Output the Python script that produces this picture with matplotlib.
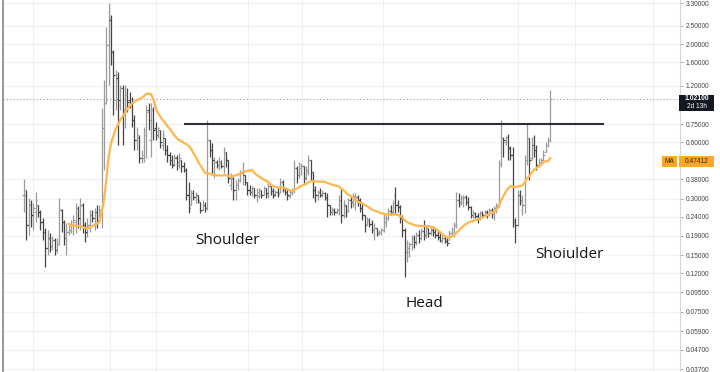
import numpy as np
import matplotlib
matplotlib.use("Agg")
import matplotlib.pyplot as plt
from matplotlib.patches import Rectangle
from matplotlib.ticker import FixedLocator, NullLocator, FuncFormatter

# ---------------- data ----------------
opens = [
    0.314, 0.314, 0.217, 0.278, 0.246, 0.255, 0.278, 0.255, 0.225, 0.199,
    0.164, 0.185, 0.168, 0.181, 0.160, 0.172, 0.261, 0.225, 0.185, 0.199,
    0.204, 0.217, 0.225, 0.268, 0.237, 0.278, 0.217, 0.199, 0.217, 0.246,
    0.237, 0.255, 0.231, 0.261, 0.714, 0.971, 1.977, 2.687, 1.815, 1.007,
    1.319, 0.947, 1.166, 0.838, 1.071, 1.007, 0.959, 0.788, 0.616, 0.631,
    0.495, 0.495, 0.655, 0.891, 0.616, 0.891, 0.714, 0.655, 0.697, 0.580,
    0.631, 0.545, 0.513, 0.482, 0.459, 0.495, 0.454, 0.482, 0.449, 0.427,
    0.314, 0.278, 0.322, 0.306, 0.314, 0.288, 0.261, 0.278, 0.268, 0.616,
    0.545, 0.417, 0.470, 0.454, 0.470, 0.449, 0.532, 0.482, 0.355, 0.387,
    0.334, 0.355, 0.377, 0.412, 0.401, 0.368, 0.334, 0.326, 0.342, 0.314,
    0.310, 0.334, 0.314, 0.342, 0.314, 0.351, 0.330, 0.314, 0.326, 0.326,
    0.368, 0.342, 0.326, 0.310, 0.326, 0.334, 0.438, 0.401, 0.438, 0.449,
    0.387, 0.417, 0.482, 0.417, 0.334, 0.314, 0.326, 0.314, 0.322, 0.302,
    0.278, 0.255, 0.261, 0.255, 0.261, 0.295, 0.246, 0.278, 0.261, 0.295,
    0.288, 0.281, 0.306, 0.295, 0.268, 0.246, 0.217, 0.231, 0.220, 0.192,
    0.209, 0.197, 0.199, 0.204, 0.225, 0.237, 0.258, 0.255, 0.314, 0.278,
    0.271, 0.237, 0.204, 0.156, 0.156, 0.172, 0.185, 0.177, 0.192, 0.185,
    0.202, 0.192, 0.209, 0.197, 0.204, 0.199, 0.192, 0.187, 0.181, 0.185,
    0.179, 0.181, 0.197, 0.199, 0.217, 0.295, 0.281, 0.288, 0.306, 0.288,
    0.271, 0.246, 0.252, 0.243, 0.237, 0.252, 0.246, 0.255, 0.249, 0.261,
    0.249, 0.268, 0.278, 0.465, 0.631, 0.601, 0.639, 0.559, 0.513, 0.225,
    0.217, 0.314, 0.261, 0.278, 0.482, 0.631, 0.495, 0.580, 0.545, 0.454,
    0.459, 0.482, 0.532, 0.580, 0.616,
]
highs = [
    0.382, 0.334, 0.302, 0.295, 0.284, 0.326, 0.278, 0.261, 0.237, 0.209,
    0.204, 0.197, 0.190, 0.185, 0.185, 0.302, 0.265, 0.230, 0.223, 0.220,
    0.231, 0.246, 0.284, 0.275, 0.302, 0.285, 0.225, 0.237, 0.261, 0.261,
    0.268, 0.278, 0.278, 0.913, 1.287, 2.466, 3.310, 2.857, 1.860, 1.455,
    1.420, 1.210, 1.210, 1.210, 1.166, 1.111, 1.045, 0.838, 0.723, 0.655,
    0.545, 0.723, 0.947, 0.971, 0.971, 0.924, 0.769, 0.723, 0.697, 0.697,
    0.631, 0.580, 0.532, 0.513, 0.519, 0.513, 0.526, 0.482, 0.470, 0.438,
    0.368, 0.334, 0.334, 0.326, 0.314, 0.288, 0.295, 0.288, 0.788, 0.616,
    0.594, 0.501, 0.482, 0.501, 0.482, 0.566, 0.535, 0.482, 0.412, 0.391,
    0.377, 0.387, 0.427, 0.470, 0.401, 0.368, 0.355, 0.351, 0.342, 0.342,
    0.342, 0.334, 0.351, 0.342, 0.364, 0.351, 0.342, 0.334, 0.342, 0.387,
    0.377, 0.342, 0.342, 0.334, 0.342, 0.482, 0.449, 0.470, 0.465, 0.449,
    0.449, 0.513, 0.482, 0.417, 0.351, 0.334, 0.342, 0.334, 0.326, 0.322,
    0.278, 0.271, 0.268, 0.268, 0.314, 0.342, 0.295, 0.278, 0.302, 0.310,
    0.322, 0.322, 0.314, 0.302, 0.284, 0.246, 0.240, 0.237, 0.231, 0.223,
    0.209, 0.204, 0.209, 0.252, 0.246, 0.268, 0.278, 0.295, 0.346, 0.295,
    0.278, 0.246, 0.209, 0.181, 0.177, 0.192, 0.192, 0.199, 0.204, 0.209,
    0.231, 0.217, 0.209, 0.212, 0.214, 0.209, 0.204, 0.199, 0.197, 0.190,
    0.185, 0.204, 0.212, 0.225, 0.326, 0.322, 0.314, 0.314, 0.314, 0.306,
    0.275, 0.261, 0.255, 0.252, 0.258, 0.258, 0.261, 0.261, 0.268, 0.268,
    0.275, 0.284, 0.482, 0.788, 0.639, 0.647, 0.660, 0.573, 0.566, 0.237,
    0.334, 0.334, 0.314, 0.513, 0.760, 0.631, 0.639, 0.655, 0.580, 0.495,
    0.495, 0.545, 0.601, 0.639, 1.138,
]
lows = [
    0.255, 0.181, 0.192, 0.212, 0.204, 0.225, 0.240, 0.204, 0.181, 0.130,
    0.150, 0.156, 0.160, 0.150, 0.154, 0.170, 0.199, 0.170, 0.150, 0.192,
    0.197, 0.192, 0.197, 0.209, 0.204, 0.197, 0.177, 0.187, 0.199, 0.225,
    0.204, 0.209, 0.223, 0.209, 0.427, 0.960, 1.210, 1.547, 0.838, 0.891,
    0.580, 0.891, 0.580, 0.714, 0.870, 0.913, 0.723, 0.545, 0.545, 0.465,
    0.465, 0.470, 0.495, 0.697, 0.501, 0.616, 0.616, 0.631, 0.559, 0.545,
    0.513, 0.470, 0.454, 0.438, 0.449, 0.427, 0.438, 0.417, 0.417, 0.295,
    0.252, 0.278, 0.295, 0.284, 0.284, 0.252, 0.261, 0.255, 0.261, 0.501,
    0.412, 0.387, 0.438, 0.427, 0.438, 0.412, 0.443, 0.363, 0.334, 0.295,
    0.295, 0.334, 0.368, 0.355, 0.355, 0.314, 0.314, 0.310, 0.302, 0.288,
    0.302, 0.302, 0.314, 0.302, 0.302, 0.314, 0.302, 0.310, 0.306, 0.322,
    0.326, 0.314, 0.295, 0.302, 0.314, 0.322, 0.363, 0.387, 0.401, 0.363,
    0.377, 0.401, 0.377, 0.302, 0.288, 0.295, 0.306, 0.306, 0.295, 0.240,
    0.246, 0.246, 0.246, 0.249, 0.246, 0.223, 0.237, 0.240, 0.255, 0.268,
    0.271, 0.261, 0.275, 0.255, 0.231, 0.199, 0.217, 0.212, 0.197, 0.181,
    0.190, 0.192, 0.192, 0.199, 0.212, 0.231, 0.246, 0.246, 0.252, 0.255,
    0.223, 0.187, 0.115, 0.138, 0.146, 0.160, 0.164, 0.170, 0.175, 0.181,
    0.181, 0.185, 0.187, 0.192, 0.190, 0.185, 0.181, 0.177, 0.175, 0.175,
    0.168, 0.181, 0.192, 0.187, 0.209, 0.271, 0.278, 0.271, 0.278, 0.261,
    0.237, 0.237, 0.237, 0.223, 0.231, 0.240, 0.246, 0.237, 0.243, 0.237,
    0.231, 0.252, 0.271, 0.443, 0.501, 0.580, 0.482, 0.482, 0.212, 0.175,
    0.214, 0.278, 0.246, 0.252, 0.454, 0.377, 0.482, 0.501, 0.427, 0.443,
    0.454, 0.465, 0.532, 0.566, 0.600,
]
closes = [
    0.334, 0.217, 0.278, 0.246, 0.268, 0.295, 0.255, 0.225, 0.199, 0.164,
    0.185, 0.168, 0.181, 0.160, 0.172, 0.261, 0.225, 0.185, 0.199, 0.204,
    0.217, 0.231, 0.268, 0.237, 0.278, 0.217, 0.199, 0.217, 0.246, 0.237,
    0.255, 0.231, 0.261, 0.714, 0.971, 1.977, 2.788, 1.815, 1.368, 1.368,
    1.007, 1.166, 0.891, 1.071, 0.983, 0.959, 0.788, 0.616, 0.655, 0.495,
    0.513, 0.697, 0.870, 0.788, 0.891, 0.697, 0.655, 0.714, 0.601, 0.655,
    0.545, 0.513, 0.482, 0.454, 0.501, 0.470, 0.495, 0.449, 0.427, 0.314,
    0.268, 0.322, 0.306, 0.314, 0.295, 0.261, 0.278, 0.268, 0.616, 0.545,
    0.482, 0.470, 0.454, 0.470, 0.449, 0.532, 0.482, 0.387, 0.387, 0.334,
    0.355, 0.377, 0.412, 0.427, 0.368, 0.334, 0.326, 0.342, 0.314, 0.326,
    0.334, 0.314, 0.342, 0.322, 0.351, 0.330, 0.314, 0.326, 0.318, 0.368,
    0.342, 0.326, 0.314, 0.326, 0.334, 0.438, 0.401, 0.454, 0.449, 0.387,
    0.427, 0.482, 0.417, 0.334, 0.314, 0.326, 0.314, 0.322, 0.306, 0.278,
    0.255, 0.261, 0.255, 0.261, 0.295, 0.246, 0.278, 0.255, 0.295, 0.288,
    0.310, 0.306, 0.295, 0.268, 0.246, 0.217, 0.231, 0.220, 0.204, 0.209,
    0.197, 0.199, 0.204, 0.237, 0.237, 0.258, 0.255, 0.284, 0.278, 0.271,
    0.237, 0.204, 0.156, 0.164, 0.172, 0.185, 0.177, 0.192, 0.185, 0.202,
    0.192, 0.209, 0.197, 0.204, 0.199, 0.192, 0.187, 0.181, 0.185, 0.179,
    0.175, 0.197, 0.204, 0.217, 0.295, 0.288, 0.302, 0.306, 0.288, 0.271,
    0.246, 0.252, 0.243, 0.237, 0.252, 0.246, 0.255, 0.249, 0.261, 0.255,
    0.268, 0.278, 0.454, 0.631, 0.616, 0.639, 0.559, 0.513, 0.231, 0.217,
    0.314, 0.295, 0.278, 0.482, 0.631, 0.482, 0.580, 0.545, 0.454, 0.470,
    0.482, 0.513, 0.580, 0.616, 1.021,
]
ma_period = 20
price_ticks = [3.3, 2.5, 2.0, 1.6, 1.2, 0.75, 0.6, 0.38, 0.3, 0.24,
               0.19, 0.15, 0.12, 0.095, 0.075, 0.059, 0.047, 0.037]
vgrid_bars = [3.8, 36.6, 56.2, 95.3, 118.3, 152.8, 210.2, 234.5, 267.7]
neck_price = 0.75
neck_start, neck_end = 68, 247
last_price = 1.021
last_label = "1.02100"
countdown_label = "2d 13h"
ma_label_price = 0.47412
ma_label = "0.47412"
pattern_labels = ["Shoulder", "Head", "Shoiulder"]
pattern_x = [86.5, 170.5, 232]
pattern_y = [0.180, 0.0834, 0.152]

assert len(opens) == len(highs) == len(lows) == len(closes)

# ---------------- figure ----------------
W, H = 720, 372
fig = plt.figure(figsize=(W / 100, H / 100), dpi=100)
fig.patch.set_facecolor("white")
ax = fig.add_axes([3 / W, 0, (680 - 3) / W, 1])
ax.set_facecolor("white")

o = np.array(opens); h = np.array(highs); l = np.array(lows); c = np.array(closes)
n = len(c)
x = np.arange(n)

ax.set_yscale("log")
ax.set_ylim(0.0358, 3.434)
ax.set_xlim(-8.94, 279.15)

# grid / ticks
ax.yaxis.set_major_locator(FixedLocator(price_ticks))
ax.yaxis.set_minor_locator(NullLocator())
ax.yaxis.set_major_formatter(FuncFormatter(lambda v, p: f"{v:.5f}"))
ax.yaxis.tick_right()
ax.set_xticks(vgrid_bars)
ax.set_xticklabels([])
ax.tick_params(axis="x", length=0)
ax.tick_params(axis="y", which="major", length=2.3, width=0.6, color="#9a9a9a",
               labelsize=4.8, labelcolor="#434343", pad=1.8)
for t in ax.get_yticklabels():
    t.set_fontfamily("Liberation Sans")
ax.grid(True, color="#eff0f3", linewidth=0.8)
ax.set_axisbelow(True)

for s in ["top", "bottom"]:
    ax.spines[s].set_visible(False)
ax.spines["left"].set_color("#7d7d7d")
ax.spines["left"].set_linewidth(1.1)
ax.spines["right"].set_color("#d6d6d6")
ax.spines["right"].set_linewidth(0.8)

# OHLC bars
up = c >= o
col_up, col_dn = "#9b9b9b", "#444444"
cols = np.where(up, col_up, col_dn)
ax.vlines(x, l, h, colors=cols, linewidth=0.9, zorder=3)
ax.hlines(o, x - 0.65, x, colors=cols, linewidth=0.9, zorder=3)
ax.hlines(c, x, x + 0.65, colors=cols, linewidth=0.9, zorder=3)

# moving average
ma = np.full(n, np.nan)
for i in range(ma_period - 1, n):
    ma[i] = c[i - ma_period + 1:i + 1].mean()
ax.plot(x, ma, color="#ffb74d", linewidth=1.6, zorder=4, solid_capstyle="round")

# last price dotted line
ax.axhline(last_price, color="#9598a1", linewidth=0.8, linestyle=(0, (1, 2)), zorder=2)

# neckline
ax.hlines(neck_price, neck_start, neck_end, color="#2c2f38", linewidth=1.5, zorder=5)

# pattern labels
for txt, px, py in zip(pattern_labels, pattern_x, pattern_y):
    ax.text(px, py, txt, ha="center", va="center", fontsize=11,
            family="Open Sans", color="#131313", zorder=6)

# price-axis labels (boxes)
def fig_y(price):
    return ax.transData.transform((0, price))[1] / fig.dpi / fig.get_figheight()

yl = fig_y(last_price)
fig.add_artist(Rectangle((679 / W, yl - 12 / H), 35 / W, 16 / H,
                         transform=fig.transFigure, facecolor="#131722",
                         edgecolor="none", zorder=10))
fig.text(696.5 / W, yl, last_label, color="white", fontsize=4.9, ha="center",
         va="center", family="Liberation Sans", weight="bold", zorder=11)
fig.text(696.5 / W, yl - 7.5 / H, countdown_label, color="white", fontsize=4.7,
         ha="center", va="center", family="Liberation Sans", zorder=11)

ym = fig_y(ma_label_price)
for bx, bw in [(662, 15), (679, 35)]:
    fig.add_artist(Rectangle((bx / W, ym - 5.5 / H), bw / W, 11 / H,
                             transform=fig.transFigure, facecolor="#ffa726",
                             edgecolor="none", zorder=10))
fig.text(669.5 / W, ym, "MA", color="#262626", fontsize=4.8, ha="center",
         va="center", family="Liberation Sans", zorder=11)
fig.text(696.5 / W, ym, ma_label, color="#262626", fontsize=4.8, ha="center",
         va="center", family="Liberation Sans", zorder=11)

fig.savefig("out.png", dpi=100, facecolor="white")
